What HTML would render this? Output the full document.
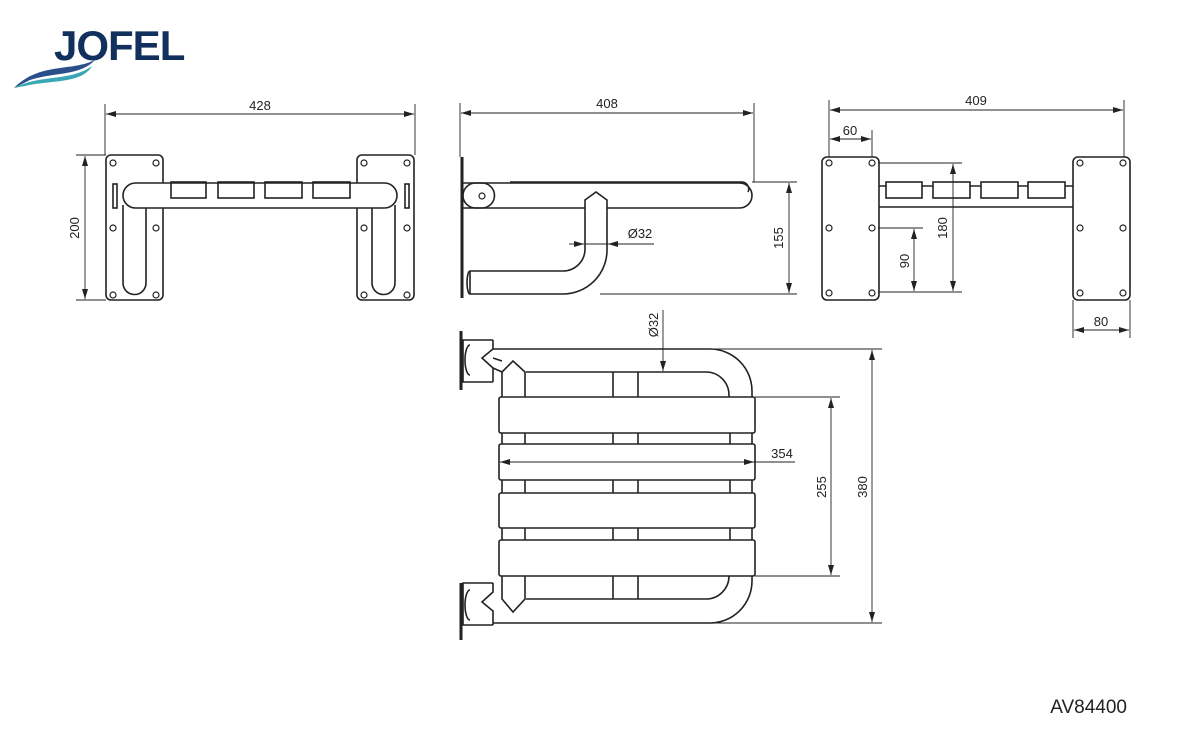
<!DOCTYPE html>
<html><head><meta charset="utf-8"><style>
html,body{margin:0;padding:0;background:#fff;}
svg{display:block;}
text{font-family:"Liberation Sans",sans-serif;fill:#222;}
</style></head><body>
<svg width="1200" height="756" viewBox="0 0 1200 756" xmlns="http://www.w3.org/2000/svg">
<defs>
<marker id="a" viewBox="0 0 10 6" refX="10" refY="3" markerWidth="10" markerHeight="6" orient="auto-start-reverse" markerUnits="userSpaceOnUse"><path d="M0,0 L10,3 L0,6 z" fill="#222"/></marker>
</defs>
<!-- logo -->
<path d="M14,88 C40,62 70,72 95,60 C80,76 55,72 30,80 Z" fill="#2a4f8a"/>
<path d="M14,88 C40,74 70,82 92,66 C82,84 50,80 25,86 Z" fill="#39a7b5"/>
<text x="54" y="60" font-size="42" font-weight="bold" fill="#12305e" style="fill:#12305e;letter-spacing:-1px">JOFEL</text>

<g fill="none" stroke="#222" stroke-width="1.6">
<!-- VIEW 1 -->
<rect x="106" y="155" width="57" height="145" rx="5"/>
<rect x="357" y="155" width="57" height="145" rx="5"/>
<path d="M123,205 V283 a11.5,11.5 0 0 0 23,0 V205"/>
<path d="M372,205 V283 a11.5,11.5 0 0 0 23,0 V205"/>
<rect x="123" y="183" width="274" height="25" rx="12.5" fill="#fff"/>
<rect x="113" y="184" width="4" height="24"/>
<rect x="405" y="184" width="4" height="24"/>
<rect x="171" y="182" width="35" height="16"/>
<rect x="218" y="182" width="36" height="16"/>
<rect x="265" y="182" width="37" height="16"/>
<rect x="313" y="182" width="37" height="16"/>
<g stroke-width="1.2">
<circle cx="113" cy="163" r="3"/><circle cx="156" cy="163" r="3"/>
<circle cx="113" cy="228" r="3"/><circle cx="156" cy="228" r="3"/>
<circle cx="113" cy="295" r="3"/><circle cx="156" cy="295" r="3"/>
<circle cx="364" cy="163" r="3"/><circle cx="407" cy="163" r="3"/>
<circle cx="364" cy="228" r="3"/><circle cx="407" cy="228" r="3"/>
<circle cx="364" cy="295" r="3"/><circle cx="407" cy="295" r="3"/>
</g>

<!-- VIEW 2 -->
<line x1="462" y1="157" x2="462" y2="298" stroke-width="3"/>
<path d="M510,182 H742 a7,7 0 0 1 6,10"/>
<rect x="463" y="183" width="289" height="25" rx="12.5"/>
<path d="M463,183 H482 a12.5,12.5 0 0 1 0,25 H463"/>
<circle cx="482" cy="196" r="3" stroke-width="1.2"/>
<path d="M585,208 V200 L596,192 L607,200 V250 a44,44 0 0 1 -44,44 H470 a3,11.5 0 0 1 0,-23 H563 a22,22 0 0 0 22,-22 Z" fill="#fff"/>
<line x1="470" y1="271" x2="470" y2="294"/>

<!-- VIEW 3 -->
<rect x="822" y="157" width="57" height="143" rx="5"/>
<rect x="1073" y="157" width="57" height="143" rx="5"/>
<line x1="879" y1="186" x2="1073" y2="186"/>
<line x1="879" y1="207" x2="1073" y2="207"/>
<rect x="886" y="182" width="36" height="16" fill="#fff"/>
<rect x="933" y="182" width="37" height="16" fill="#fff"/>
<rect x="981" y="182" width="37" height="16" fill="#fff"/>
<rect x="1028" y="182" width="37" height="16" fill="#fff"/>
<g stroke-width="1.2">
<circle cx="829" cy="163" r="3"/><circle cx="872" cy="163" r="3"/>
<circle cx="829" cy="228" r="3"/><circle cx="872" cy="228" r="3"/>
<circle cx="829" cy="293" r="3"/><circle cx="872" cy="293" r="3"/>
<circle cx="1080" cy="163" r="3"/><circle cx="1123" cy="163" r="3"/>
<circle cx="1080" cy="228" r="3"/><circle cx="1123" cy="228" r="3"/>
<circle cx="1080" cy="293" r="3"/><circle cx="1123" cy="293" r="3"/>
</g>

<!-- VIEW 4 -->
<line x1="461" y1="331" x2="461" y2="390" stroke-width="3"/>
<line x1="461" y1="583" x2="461" y2="640" stroke-width="3"/>
<path d="M493,340 H463 V382 H493 M493,340 V349 L482,358 L493,368 V382 M470,345 a4,12 0 0 0 0,30"/>
<path d="M493,583 H463 V625 H493 M493,583 V592 L482,602 L493,611 V625 M470,590 a4,12 0 0 0 0,30"/>
<path d="M493,349 H710 a42,42 0 0 1 42,42 V397"/>
<path d="M526,372 H706 a23,23 0 0 1 23,23 V397"/>
<path d="M493,623 H710 a42,42 0 0 0 42,-42 V576"/>
<path d="M526,599 H706 a23,23 0 0 0 23,-23 V576"/>
<path d="M502,397 V372 L513,361 L525,372 V397"/>
<path d="M502,576 V599 L513,612 L525,599 V576"/>
<path d="M493,368 L502,372 M493,358 L502,361"/>
<g>
<line x1="613" y1="372" x2="613" y2="397"/><line x1="638" y1="372" x2="638" y2="397"/>
<line x1="613" y1="576" x2="613" y2="599"/><line x1="638" y1="576" x2="638" y2="599"/>
<path d="M502,433V444M525,433V444M613,433V444M638,433V444M730,433V444M752,433V444"/>
<path d="M502,480V493M525,480V493M613,480V493M638,480V493M730,480V493M752,480V493"/>
<path d="M502,528V540M525,528V540M613,528V540M638,528V540M730,528V540M752,528V540"/>
</g>
<rect x="499" y="397" width="256" height="36" rx="2" fill="#fff"/>
<rect x="499" y="444" width="256" height="36" rx="2" fill="#fff"/>
<rect x="499" y="493" width="256" height="35" rx="2" fill="#fff"/>
<rect x="499" y="540" width="256" height="36" rx="2" fill="#fff"/>
</g>

<!-- dimensions -->
<g fill="none" stroke="#222" stroke-width="0.9">
<path d="M105,104V155M415,104V155"/>
<line x1="106" y1="114" x2="414" y2="114" marker-start="url(#a)" marker-end="url(#a)"/>
<path d="M76,155H106M76,300H106"/>
<line x1="85" y1="156" x2="85" y2="299" marker-start="url(#a)" marker-end="url(#a)"/>

<path d="M460,103V157M754,103V182"/>
<line x1="461" y1="113" x2="753" y2="113" marker-start="url(#a)" marker-end="url(#a)"/>
<path d="M752,182H797M600,294H797"/>
<line x1="789" y1="183" x2="789" y2="293" marker-start="url(#a)" marker-end="url(#a)"/>
<line x1="569" y1="244" x2="584" y2="244" marker-end="url(#a)"/>
<line x1="623" y1="244" x2="608" y2="244" marker-end="url(#a)"/>
<line x1="585" y1="244" x2="654" y2="244"/>

<path d="M829,100V157M1124,100V157M872,130V157"/>
<line x1="830" y1="110" x2="1123" y2="110" marker-start="url(#a)" marker-end="url(#a)"/>
<line x1="830" y1="139" x2="871" y2="139" marker-start="url(#a)" marker-end="url(#a)"/>
<path d="M878,163H962M878,292H962M878,228H923"/>
<line x1="953" y1="164" x2="953" y2="291" marker-start="url(#a)" marker-end="url(#a)"/>
<line x1="914" y1="229" x2="914" y2="291" marker-start="url(#a)" marker-end="url(#a)"/>
<path d="M1073,300V338M1130,300V338"/>
<line x1="1074" y1="330" x2="1129" y2="330" marker-start="url(#a)" marker-end="url(#a)"/>

<line x1="500" y1="462" x2="795" y2="462"/>
<line x1="530" y1="462" x2="500" y2="462" marker-end="url(#a)"/>
<line x1="724" y1="462" x2="754" y2="462" marker-end="url(#a)"/>
<path d="M755,397H840M755,576H840M710,349H882M710,623H882"/>
<line x1="831" y1="398" x2="831" y2="575" marker-start="url(#a)" marker-end="url(#a)"/>
<line x1="872" y1="350" x2="872" y2="622" marker-start="url(#a)" marker-end="url(#a)"/>
<line x1="663" y1="310" x2="663" y2="371" marker-end="url(#a)"/>
</g>

<g font-size="13">
<text x="260" y="110" text-anchor="middle">428</text>
<text transform="translate(79,228) rotate(-90)" text-anchor="middle">200</text>
<text x="607" y="108" text-anchor="middle">408</text>
<text x="640" y="238" text-anchor="middle">Ø32</text>
<text transform="translate(783,238) rotate(-90)" text-anchor="middle">155</text>
<text x="976" y="105" text-anchor="middle">409</text>
<text x="850" y="135" text-anchor="middle">60</text>
<text transform="translate(947,228) rotate(-90)" text-anchor="middle">180</text>
<text transform="translate(909,261) rotate(-90)" text-anchor="middle">90</text>
<text x="1101" y="326" text-anchor="middle">80</text>
<text x="782" y="458" text-anchor="middle">354</text>
<text transform="translate(826,487) rotate(-90)" text-anchor="middle">255</text>
<text transform="translate(867,487) rotate(-90)" text-anchor="middle">380</text>
<text transform="translate(658,325) rotate(-90)" text-anchor="middle">Ø32</text>
<text x="1127" y="713" font-size="19" text-anchor="end">AV84400</text>
</g>
</svg>
</body></html>
